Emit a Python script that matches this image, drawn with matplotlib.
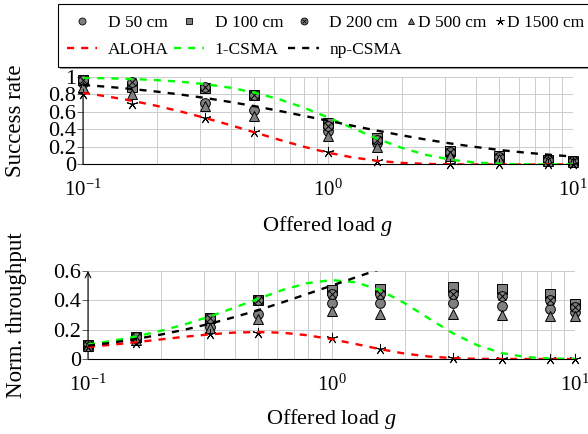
import matplotlib
matplotlib.use('Agg')
import matplotlib.pyplot as plt
from matplotlib.lines import Line2D
from matplotlib.patches import Rectangle
from matplotlib.ticker import LogLocator, NullFormatter

plt.rcParams['font.family'] = ['Liberation Serif', 'DejaVu Serif']
plt.rcParams['mathtext.fontset'] = 'custom'
plt.rcParams['mathtext.rm'] = 'Liberation Serif'
plt.rcParams['mathtext.it'] = 'Liberation Serif:italic'

# measured points (offered load g)
g_meas = [0.1, 0.158, 0.316, 0.5, 1.0, 1.58, 3.16, 5.0, 7.9, 10.0]

succ_d50 = [0.93, 0.87, 0.70, 0.62, 0.38, 0.24, 0.12, 0.072, 0.043, 0.032]
succ_d100 = [0.96, 0.88, 0.87, 0.79, 0.47, 0.30, 0.155, 0.096, 0.056, 0.038]
succ_d200 = [0.97, 0.94, 0.88, 0.79, 0.44, 0.28, 0.14, 0.086, 0.051, 0.035]
succ_d500 = [0.88, 0.80, 0.67, 0.55, 0.33, 0.20, 0.10, 0.06, 0.037, 0.029]
succ_d1500 = [0.80, 0.69, 0.53, 0.37, 0.14, 0.045, 0.003, 0.0, 0.0, 0.0]

thr_d50 = [0.095, 0.14, 0.22, 0.31, 0.38, 0.38, 0.38, 0.36, 0.34, 0.32]
thr_d100 = [0.097, 0.15, 0.28, 0.40, 0.47, 0.48, 0.49, 0.48, 0.44, 0.375]
thr_d200 = [0.097, 0.15, 0.28, 0.40, 0.44, 0.44, 0.44, 0.43, 0.40, 0.355]
thr_d500 = [0.088, 0.13, 0.21, 0.27, 0.33, 0.31, 0.31, 0.30, 0.29, 0.29]
thr_d1500 = [0.08, 0.11, 0.17, 0.18, 0.14, 0.07, 0.01, 0.0, 0.0, 0.0]

# model curves
g_model = [0.1, 0.126, 0.158, 0.2, 0.251, 0.316, 0.398, 0.5, 0.631, 0.794, 1.0,
           1.259, 1.585, 1.995, 2.512, 3.162, 3.981, 5.012, 6.31, 7.943, 10.0]

succ_aloha = [0.819, 0.777, 0.729, 0.670, 0.605, 0.531, 0.451, 0.368, 0.283, 0.204, 0.135,
              0.081, 0.042, 0.0185, 0.0066, 0.0018, 0.0003, 0.0, 0.0, 0.0, 0.0]
succ_1csma = [0.990, 0.985, 0.977, 0.964, 0.946, 0.918, 0.878, 0.822, 0.746, 0.651, 0.538,
              0.416, 0.296, 0.191, 0.110, 0.055, 0.023, 0.008, 0.002, 0.0004, 0.0001]
succ_npcsma = [0.909, 0.888, 0.863, 0.833, 0.799, 0.760, 0.715, 0.667, 0.613, 0.557, 0.500,
               0.443, 0.387, 0.334, 0.285, 0.240, 0.201, 0.166, 0.137, 0.112, 0.091]

thr_aloha = [0.082, 0.098, 0.115, 0.134, 0.152, 0.168, 0.180, 0.184, 0.179, 0.162, 0.135,
             0.102, 0.067, 0.037, 0.017, 0.006, 0.001, 0.0002, 0.0, 0.0, 0.0]
thr_1csma = [0.099, 0.124, 0.154, 0.193, 0.237, 0.290, 0.349, 0.411, 0.471, 0.517, 0.538,
             0.523, 0.469, 0.381, 0.276, 0.174, 0.093, 0.040, 0.013, 0.003, 0.001]
thr_npcsma = [0.091, 0.112, 0.137, 0.167, 0.201, 0.240, 0.285, 0.333, 0.387, 0.443, 0.500,
              0.557, 0.613, 0.666, 0.715, 0.760, 0.799, 0.834, 0.863, 0.888, 0.909]

succ_ticks = [0, 0.2, 0.4, 0.6, 0.8, 1]
succ_labels = ['0', '0.2', '0.4', '0.6', '0.8', '1']
thr_ticks = [0, 0.2, 0.4, 0.6]
thr_labels = ['0', '0.2', '0.4', '0.6']

gray = '#808080'
red = '#ff0000'
green = '#00ff00'
mk = dict(linestyle='none', markeredgecolor='black', markeredgewidth=0.7,
          markerfacecolor=gray, clip_on=False, zorder=3)
star = (5, 2, 0)
dash = dict(lw=1.7, dashes=(3, 3), zorder=4)


def draw(ax, d50, d100, d200, d500, d1500, aloha, csma1, npcsma):
    ax.plot(g_meas, d50, marker='o', markersize=7, **mk)
    ax.plot(g_meas, d100, marker='s', markersize=6.5, **mk)
    ax.plot(g_meas, d200, marker='o', markersize=7, **mk)
    ax.plot(g_meas, d200, marker='x', markersize=5.5, linestyle='none',
            color='black', markeredgewidth=0.7, clip_on=False, zorder=3)
    ax.plot(g_meas, d500, marker='^', markersize=7, **mk)
    ax.plot(g_meas, d1500, marker=star, markersize=8, linestyle='none',
            color='black', markeredgewidth=0.7, clip_on=False, zorder=3)
    ax.plot(g_model, aloha, color=red, **dash)
    ax.plot(g_model, csma1, color=green, **dash)
    ax.plot(g_model, npcsma, color='black', **dash)


def style(ax, ticks, labels, top):
    ax.set_xscale('log')
    ax.set_xlim(0.1, 10)
    ax.set_ylim(0, top)
    ax.set_yticks(ticks, labels=labels)
    ax.xaxis.set_major_locator(LogLocator(base=10))
    ax.xaxis.set_minor_locator(LogLocator(base=10, subs=range(2, 10)))
    ax.xaxis.set_minor_formatter(NullFormatter())
    ax.grid(True, which='both', axis='x', color='#cccccc', lw=0.7)
    ax.grid(True, which='major', axis='y', color='#cccccc', lw=0.7)
    ax.set_axisbelow(True)
    for s in ['top', 'right', 'left']:
        ax.spines[s].set_visible(False)
    ax.spines['bottom'].set_linewidth(0.8)
    ax.tick_params(axis='x', which='both', length=0, pad=11, labelsize=15)
    ax.tick_params(axis='y', length=4, width=0.6, color='#444444', pad=1, labelsize=16)
    ax.annotate('', xy=(0, 1), xytext=(0, 0), xycoords='axes fraction',
                arrowprops=dict(arrowstyle='->', lw=0.8, color='black',
                                shrinkA=0, shrinkB=0, mutation_scale=10),
                zorder=2)
    ax.set_xlabel('Offered load $g$', fontsize=16, va='top')


fig = plt.figure(figsize=(5.88, 4.34), dpi=100)
ax1 = fig.add_axes([0.1412, 0.6210, 0.8333, 0.2016])
ax2 = fig.add_axes([0.1497, 0.1728, 0.8282, 0.2028])

draw(ax1, succ_d50, succ_d100, succ_d200, succ_d500, succ_d1500,
     succ_aloha, succ_1csma, succ_npcsma)
draw(ax2, thr_d50, thr_d100, thr_d200, thr_d500, thr_d1500,
     thr_aloha, thr_1csma, thr_npcsma)

style(ax1, succ_ticks, succ_labels, 1)
style(ax2, thr_ticks, thr_labels, 0.6)

ax1.set_ylabel('Success rate', fontsize=16.5)
ax2.set_ylabel('Norm. throughput', fontsize=16.5)
ax1.yaxis.set_label_coords(-0.116, 0.5)
ax2.yaxis.set_label_coords(-0.125, 0.5)
ax1.xaxis.set_label_coords(0.5, -0.57)
ax2.xaxis.set_label_coords(0.5, -0.55)

# legend frame with a soft shadow below
W, H = 588, 434
fig.patches.append(Rectangle((60 / W, 1 - 69 / H), 560 / W, 63 / H,
                             transform=fig.transFigure, facecolor='#999999',
                             edgecolor='none', zorder=0))
fig.patches.append(Rectangle((58 / W, 1 - 67 / H), 560 / W, 63 / H,
                             transform=fig.transFigure, facecolor='white',
                             edgecolor='black', lw=0.8, zorder=1))

lk = dict(linestyle='none', markeredgecolor='black', markeredgewidth=0.6,
          markerfacecolor=gray)
h50 = Line2D([], [], marker='o', markersize=5, **lk)
h100 = Line2D([], [], marker='s', markersize=5, **lk)
h200 = (Line2D([], [], marker='o', markersize=5, **lk),
        Line2D([], [], marker='x', markersize=3.5, linestyle='none', color='black',
               markeredgewidth=0.6))
h500 = Line2D([], [], marker='^', markersize=5, **lk)
h1500 = Line2D([], [], marker=star, markersize=6, linestyle='none', color='black',
               markeredgewidth=0.6)
ha = Line2D([], [], color=red, lw=1.7, dashes=(3, 3))
hc = Line2D([], [], color=green, lw=1.7, dashes=(3, 3))
hn = Line2D([], [], color='black', lw=1.7, dashes=(3, 3))

common = dict(loc='upper left', borderaxespad=0, borderpad=0, fontsize=12.5,
              frameon=False)
leg_a = fig.legend([h50, ha, h100, hc, h200, hn],
                   ['D 50 cm', 'ALOHA', 'D 100 cm', '1-CSMA', 'D 200 cm', 'np-CSMA'],
                   ncol=3, bbox_to_anchor=(67 / W, 1 - 15 / H),
                   handlelength=1.75, handletextpad=0.6, columnspacing=0.3,
                   labelspacing=0.6, **common)
leg_b = fig.legend([h500, h1500], ['D 500 cm', 'D 1500 cm'],
                   ncol=2, bbox_to_anchor=(406 / W, 1 - 15 / H),
                   handlelength=0.55, handletextpad=0.15, columnspacing=0.5,
                   **common)
leg_a.set_zorder(2)
leg_b.set_zorder(2)

fig.savefig('out.png', dpi=100)
